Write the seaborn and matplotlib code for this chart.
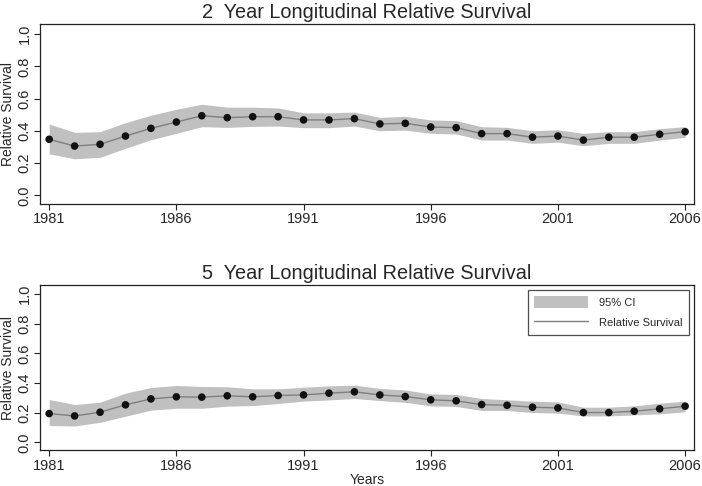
import numpy as np
import pandas as pd
import matplotlib
matplotlib.use('Agg')
from matplotlib import pyplot as plt
from matplotlib.patches import Patch
from matplotlib.lines import Line2D
import seaborn as sns

years = list(range(1981, 2007))

# 2 year relative survival, with 95% CI
rs2 = [0.348, 0.306, 0.317, 0.368, 0.416, 0.455, 0.494, 0.482, 0.488, 0.488,
       0.468, 0.468, 0.476, 0.443, 0.447, 0.424, 0.420, 0.383, 0.383, 0.361,
       0.368, 0.343, 0.361, 0.361, 0.379, 0.395]
lo2 = [0.258, 0.227, 0.236, 0.292, 0.345, 0.385, 0.426, 0.422, 0.428, 0.430,
       0.420, 0.420, 0.430, 0.401, 0.405, 0.385, 0.381, 0.343, 0.343, 0.323,
       0.330, 0.308, 0.323, 0.323, 0.343, 0.360]
hi2 = [0.443, 0.391, 0.395, 0.451, 0.497, 0.534, 0.565, 0.547, 0.547, 0.542,
       0.512, 0.512, 0.517, 0.484, 0.490, 0.468, 0.464, 0.426, 0.422, 0.401,
       0.407, 0.385, 0.395, 0.395, 0.414, 0.426]

# 5 year relative survival, with 95% CI
rs5 = [0.194, 0.178, 0.203, 0.253, 0.293, 0.307, 0.305, 0.314, 0.307, 0.316,
       0.320, 0.332, 0.341, 0.320, 0.309, 0.287, 0.280, 0.255, 0.250, 0.237,
       0.232, 0.201, 0.201, 0.210, 0.226, 0.244]
lo5 = [0.113, 0.110, 0.135, 0.176, 0.217, 0.230, 0.230, 0.244, 0.248, 0.262,
       0.278, 0.286, 0.296, 0.282, 0.270, 0.246, 0.242, 0.215, 0.215, 0.201,
       0.197, 0.178, 0.178, 0.185, 0.192, 0.206]
hi5 = [0.289, 0.255, 0.271, 0.332, 0.370, 0.384, 0.377, 0.375, 0.361, 0.361,
       0.372, 0.381, 0.386, 0.364, 0.353, 0.327, 0.323, 0.296, 0.287, 0.278,
       0.273, 0.237, 0.237, 0.246, 0.264, 0.278]

titles = ['2  Year Longitudinal Relative Survival', '5  Year Longitudinal Relative Survival']
xticks = [1981, 1986, 1991, 1996, 2001, 2006]
yticks = [0.0, 0.2, 0.4, 0.6, 0.8, 1.0]

sns.set_theme(style='ticks')
plt.rcParams['font.family'] = ['Liberation Sans', 'DejaVu Sans']

band_col = '#c0c0c0'
line_col = '#7f7f7f'

fig = plt.figure(figsize=(7.02, 4.86), dpi=100)
ax1 = fig.add_axes([0.057, 0.580, 0.932, 0.371])
ax2 = fig.add_axes([0.057, 0.0735, 0.932, 0.3405])

panels = [(ax1, rs2, lo2, hi2), (ax2, rs5, lo5, hi5)]
for i, (ax, rs, lo, hi) in enumerate(panels):
    df = pd.DataFrame({'year': years, 'rs': rs, 'lo': lo, 'hi': hi})
    ax.fill_between(df.year, df.lo, df.hi, color=band_col, linewidth=0)
    sns.lineplot(data=df, x='year', y='rs', ax=ax, color=line_col, linewidth=1.0)
    sns.scatterplot(data=df, x='year', y='rs', ax=ax, color='#111111', s=30,
                    edgecolor='none', zorder=3)
    ax.set_xlim(1980.64, 2006.36)
    ax.set_ylim(-0.054, 1.064)
    ax.set_xticks(xticks)
    ax.set_xticklabels([str(x) for x in xticks], fontsize=10.5)
    ax.set_yticks(yticks)
    ax.set_yticklabels(['%.1f' % y for y in yticks], fontsize=10.5, rotation=90, va='center')
    ax.tick_params(direction='out', length=4, width=0.8, color='#222222', pad=2)
    ax.set_ylabel('Relative Survival', fontsize=10, labelpad=2)
    ax.set_title(titles[i], fontsize=14.3, pad=4)
    for s in ax.spines.values():
        s.set_visible(True)
        s.set_linewidth(0.9)
        s.set_color('#222222')
    if i == 0:
        ax.set_xlabel('')
    else:
        ax.set_xlabel('Years', fontsize=10, labelpad=0)

handles = [Patch(facecolor=band_col, edgecolor='none', label='95% CI'),
           Line2D([0], [0], color=line_col, linewidth=1.0, label='Relative Survival')]
leg = ax2.legend(handles=handles, loc='upper right', bbox_to_anchor=(0.992, 0.97),
                 borderaxespad=0, fontsize=8, frameon=True, fancybox=False,
                 edgecolor='#222222', handlelength=4.9, handleheight=1.3,
                 handletextpad=1.0, borderpad=0.55, labelspacing=0.75)
leg.get_frame().set_linewidth(0.9)

plt.savefig('out.png', dpi=100)
